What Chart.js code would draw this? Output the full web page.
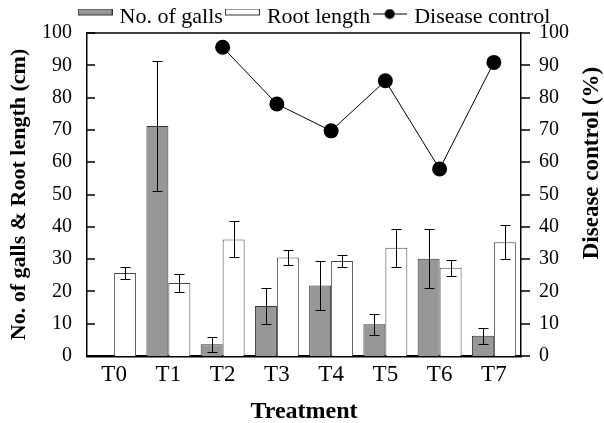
<!DOCTYPE html>
<html>
<head>
<meta charset="utf-8">
<script src="https://cdn.jsdelivr.net/npm/chart.js@4"></script>
<style>
  html, body { margin: 0; padding: 0; background: #fff; }
</style>
</head>
<body>
<canvas id="chart" width="604" height="423"></canvas>
<script>
// data
const treatments = ['T0', 'T1', 'T2', 'T3', 'T4', 'T5', 'T6', 'T7'];
const galls = [null, 71.2, 3.6, 15.5, 21.8, 9.8, 30.1, 6.3];
const gallsErr = [0, 20.2, 2.4, 5.5, 7.6, 3.3, 9.2, 2.5];
const rootLength = [25.7, 22.6, 36.1, 30.5, 29.4, 33.5, 27.3, 35.2];
const rootErr = [2.0, 2.7, 5.6, 2.3, 1.9, 5.8, 2.4, 5.3];
const diseaseControl = [null, null, 95.6, 78.0, 69.7, 85.2, 57.9, 90.9];
const yTicks = [0, 10, 20, 30, 40, 50, 60, 70, 80, 90, 100];

const FONT = "'Liberation Serif', 'Times New Roman', serif";
const GRAY = '#979797';

// little canvases used as legend symbols (sit a bit above the text centre, like the original)
function swatch(fill) {
  const c = document.createElement('canvas');
  c.width = 35; c.height = 17;
  const g = c.getContext('2d');
  g.fillStyle = fill;
  g.fillRect(0, 0, 35, 7);
  g.strokeStyle = '#333';
  g.lineWidth = 1;
  g.strokeRect(0.5, 0.5, 34, 6);
  return c;
}
function lineDot() {
  const c = document.createElement('canvas');
  c.width = 34; c.height = 17;
  const g = c.getContext('2d');
  g.strokeStyle = '#000';
  g.lineWidth = 1;
  g.beginPath(); g.moveTo(0, 5.5); g.lineTo(34, 5.5); g.stroke();
  g.fillStyle = '#000';
  g.beginPath(); g.arc(17, 5.5, 5, 0, Math.PI * 2); g.fill();
  return c;
}
const legendIcons = [swatch(GRAY), swatch('#fff'), lineDot()];

const errorBars = {
  id: 'errorBars',
  afterDatasetsDraw(chart) {
    const ctx = chart.ctx;
    const y = chart.scales.y;
    [[0, gallsErr], [1, rootErr]].forEach(([di, errs]) => {
      const vals = chart.data.datasets[di].data;
      chart.getDatasetMeta(di).data.forEach((bar, i) => {
        if (vals[i] == null || !errs[i]) return;
        const top = Math.round(y.getPixelForValue(vals[i] + errs[i])) + 0.5;
        const bot = Math.round(y.getPixelForValue(vals[i] - errs[i])) + 0.5;
        const x = Math.round(bar.x) + 0.5;
        ctx.save();
        ctx.strokeStyle = '#000';
        ctx.lineWidth = 1;
        ctx.beginPath();
        ctx.moveTo(x, top); ctx.lineTo(x, bot);
        ctx.moveTo(x - 5, top); ctx.lineTo(x + 5, top);
        ctx.moveTo(x - 5, bot); ctx.lineTo(x + 5, bot);
        ctx.stroke();
        ctx.restore();
      });
    });
  }
};

const frame = {
  id: 'frame',
  beforeInit(chart) {
    const fit = chart.legend.fit;
    chart.legend.fit = function () {
      fit.call(this);
      this.height = 33;
    };
  },
  afterLayout(chart) {
    // the legend sits a little right of centre in the original
    const lg = chart.legend;
    lg.left += 14; lg.right += 14;
  },
  afterDraw(chart) {
    const { ctx, chartArea, scales } = chart;
    ctx.save();
    ctx.strokeStyle = '#000';
    ctx.lineWidth = 1.5;
    ctx.beginPath();
    ctx.moveTo(chartArea.left, chartArea.top);
    ctx.lineTo(chartArea.right, chartArea.top);
    ctx.stroke();
    // ticks: inward on the left axis, outward on the right one
    yTicks.forEach(v => {
      const py = Math.round(scales.y.getPixelForValue(v));
      ctx.beginPath();
      ctx.moveTo(chartArea.left, py);
      ctx.lineTo(chartArea.left + 8, py);
      ctx.stroke();
      const pr = Math.round(scales.y1.getPixelForValue(v));
      ctx.beginPath();
      ctx.moveTo(chartArea.right, pr);
      ctx.lineTo(chartArea.right + 9, pr);
      ctx.stroke();
    });
    // right title reads bottom to top like the left one
    ctx.translate(592, 163);
    ctx.rotate(-Math.PI / 2);
    ctx.font = 'bold 23px ' + FONT;
    ctx.fillStyle = '#000';
    ctx.textAlign = 'center';
    ctx.textBaseline = 'middle';
    ctx.fillText('Disease control (%)', 0, 0);
    ctx.restore();
  }
};

new Chart(document.getElementById('chart'), {
  data: {
    labels: treatments,
    datasets: [
      {
        type: 'bar',
        label: 'No. of galls',
        data: galls,
        backgroundColor: GRAY,
        borderColor: '#333',
        borderWidth: 1,
        categoryPercentage: 0.81,
        barPercentage: 1,
        yAxisID: 'y',
        order: 2
      },
      {
        type: 'bar',
        label: 'Root length',
        data: rootLength,
        backgroundColor: '#fff',
        borderColor: '#444',
        borderWidth: 1,
        categoryPercentage: 0.81,
        barPercentage: 1,
        yAxisID: 'y',
        order: 2
      },
      {
        type: 'line',
        label: 'Disease control',
        data: diseaseControl,
        borderColor: '#000',
        borderWidth: 1,
        backgroundColor: '#000',
        pointRadius: 7.5,
        pointBackgroundColor: '#000',
        pointBorderWidth: 0,
        tension: 0,
        yAxisID: 'y1',
        order: 0
      }
    ]
  },
  options: {
    responsive: false,
    animation: false,
    layout: { padding: 0 },
    plugins: {
      tooltip: { enabled: false },
      legend: {
        position: 'top',
        labels: {
          font: { family: FONT, size: 22 },
          color: '#000',
          usePointStyle: true,
          pointStyleWidth: 27,
          padding: 6,
          generateLabels: (chart) => chart.data.datasets.map((ds, i) => ({
            text: ds.label,
            pointStyle: legendIcons[i],
            fontColor: '#000',
            hidden: false,
            lineWidth: 0,
            datasetIndex: i
          }))
        }
      }
    },
    scales: {
      x: {
        grid: { display: false, drawTicks: false },
        border: { display: true, color: '#000', width: 2.5 },
        ticks: { font: { family: FONT, size: 23 }, color: '#000', padding: 5 },
        title: {
          display: true,
          text: 'Treatment',
          font: { family: FONT, size: 24, weight: 'bold' },
          color: '#000',
          padding: { top: 0, bottom: -3 }
        },
        afterFit(s) { s.height = 67; s.paddingLeft = 0; s.paddingRight = 0; }
      },
      y: {
        position: 'left',
        min: 0,
        max: 100,
        grid: { display: false, drawTicks: false },
        border: { display: true, color: '#000', width: 1.5 },
        ticks: { stepSize: 10, font: { family: FONT, size: 20 }, color: '#000', padding: 15 },
        title: {
          display: true,
          text: 'No. of galls & Root length (cm)',
          font: { family: FONT, size: 22, weight: 'bold' },
          color: '#000',
          padding: { top: 6, bottom: 0 }
        },
        afterFit(s) { s.width = 87; s.paddingTop = 0; s.paddingBottom = 0; }
      },
      y1: {
        position: 'right',
        min: 0,
        max: 100,
        grid: { display: false, drawTicks: false },
        border: { display: true, color: '#000', width: 1.5 },
        ticks: { stepSize: 10, font: { family: FONT, size: 20 }, color: '#000', padding: 18 },
        afterFit(s) { s.width = 83; s.paddingTop = 0; s.paddingBottom = 0; }
      }
    }
  },
  plugins: [errorBars, frame]
});
</script>
</body>
</html>
